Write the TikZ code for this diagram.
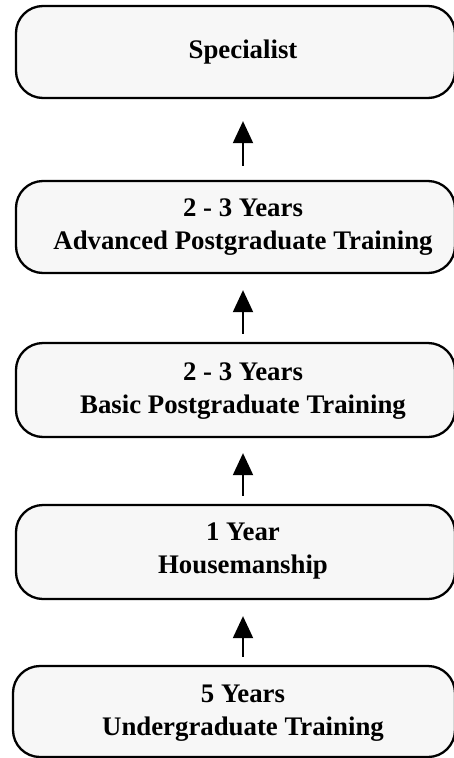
\documentclass[tikz,border=0pt]{standalone}
\usepackage{fontspec}
\setmainfont{Liberation Serif}
\usetikzlibrary{arrows.meta}
\begin{document}
\begin{tikzpicture}[x=1pt,y=-1pt,
  stagebox/.style={draw=black, line width=2.3pt, fill=black!3, rounded corners=27pt,
    minimum width=439pt, inner sep=0pt, anchor=center},
  stagetext/.style={font=\fontsize{26.8}{33}\selectfont\bfseries, align=center, inner sep=0pt},
  uparrow/.style={line width=2pt, -{Triangle[width=20pt,length=22pt]}}]
\useasboundingbox (0,0) rectangle (454,758);
\node[stagebox, minimum height=92pt] (b1) at (235.5,52) {};
\node[stagebox, minimum height=92pt] (b2) at (235.5,227) {};
\node[stagebox, minimum height=94pt] (b3) at (235.5,390) {};
\node[stagebox, minimum height=94pt] (b4) at (235.5,552) {};
\node[stagebox, minimum height=91pt, minimum width=442pt] (b5) at (234,711.5) {};
\node[stagetext] (t1) at (243,52) {Specialist};
\node[stagetext] (t2) at (243,227) {2 - 3 Years\\Advanced Postgraduate Training};
\node[stagetext] (t3) at (243,391) {2 - 3 Years\\Basic Postgraduate Training};
\node[stagetext] (t4) at (243,551) {1 Year\\Housemanship};
\node[stagetext] (t5) at (243,713) {5 Years\\Undergraduate Training};
\draw[uparrow, shorten <=14pt, shorten >=22pt] (b2.north -| t2.center) -- (b1.south -| t1.center);
\draw[uparrow, shorten <=8pt, shorten >=16pt] (b3.north -| t3.center) -- (b2.south -| t2.center);
\draw[uparrow, shorten <=8pt, shorten >=15pt] (b4.north -| t4.center) -- (b3.south -| t3.center);
\draw[uparrow, shorten <=8pt, shorten >=16pt] (b5.north -| t5.center) -- (b4.south -| t4.center);
\end{tikzpicture}
\end{document}
